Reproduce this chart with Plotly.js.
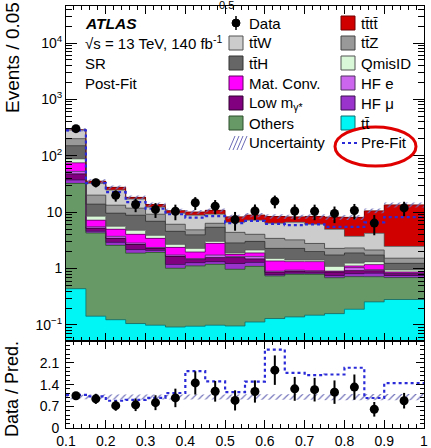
<!DOCTYPE html>
<html><head><meta charset="utf-8">
<script src="https://cdn.plot.ly/plotly-3.0.1.min.js"></script>
<style>html,body{margin:0;padding:0;background:#fff}#chart{width:431px;height:448px}</style>
</head><body><div id="chart"></div>
<script>
// ---- data ----
const binEdges = [0.1,0.15,0.2,0.25,0.3,0.35,0.4,0.45,0.5,0.55,0.6,0.65,0.7,0.75,0.8,0.85,0.9,1.0];
const ttbar   = [0.44,0.143,0.124,0.106,0.099,0.092,0.095,0.099,0.096,0.113,0.13,0.139,0.149,0.159,0.19,0.257,0.283];
const others  = [31.9,4.13,2.45,1.77,1.83,0.92,1.02,1.09,0.875,0.98,0.61,0.65,0.64,0.53,0.53,0.46,0.41];
const hfMu    = [5.0,0.31,0.34,0.30,0.17,0.17,0.16,0.14,0.26,0.19,0.04,0.04,0.04,0.06,0.094,0.11,0.06];
const lowM    = [10.4,0.60,0.52,0.50,0.18,0.46,0.17,0.24,0.34,0.20,0.085,0.07,0.053,0.116,0.107,0.09,0.064];
const hfE     = [5.2,0.33,0.30,0.17,0.09,0.10,0.06,0.17,0.07,0.16,0.036,0.04,0.037,0.018,0.12,0.04,0.017];
const matConv = [22.1,1.69,1.24,1.20,1.06,0.63,0.46,1.05,0.14,0.25,0.46,0.39,0.41,0.018,0.07,0.22,0.035];
const qmisID  = [13.4,1.28,0.65,0.72,0.45,0.31,0.31,0.24,0.11,0.25,0.15,0.09,0.09,0.19,0.14,0.15,0.08];
const ttH     = [62.5,5.4,3.98,4.07,3.03,1.90,1.69,2.37,0.96,0.89,0.77,0.86,0.59,0.65,0.64,0.41,0.29];
const ttZ     = [50.4,6.2,3.7,2.96,2.30,1.53,0.90,0.96,1.54,1.02,1.15,0.95,0.78,0.54,0.43,0.40,0.29];
const ttW     = [84.7,12.2,11.4,5.3,3.09,3.49,3.97,2.85,2.24,3.15,2.93,3.40,3.32,2.69,1.41,2.08,0.94];
const tttt    = [5.0,3.2,2.9,1.2,1.4,1.1,1.26,1.59,1.67,1.7,2.04,1.67,2.29,3.23,4.37,6.38,11.03];
const data    = [303,33.4,19.9,13.7,11.2,10.4,14.7,12.8,7.4,10.5,15.7,10.5,10.4,9.5,10.7,6.4,11.9];
const dataErr = [17,5.8,4.5,3.7,3.3,3.2,3.8,3.6,2.7,3.2,4.0,3.2,3.2,3.1,3.3,2.5,3.4];
const prefit  = [283,32.7,22.6,15.1,11.5,9.2,8.0,8.5,6.4,7.0,6.2,5.9,6.1,5.5,5.5,6.6,8.2];
const uncRel  = [0.07,0.08,0.08,0.08,0.08,0.08,0.08,0.08,0.08,0.09,0.09,0.09,0.09,0.1,0.1,0.1,0.1];

const yTickVals = [0.1,1,10,100,1000,10000];
const yTickText = ['10<sup>−1</sup>','1','10','10<sup>2</sup>','10<sup>3</sup>','10<sup>4</sup>'];
const rTickVals = [0,0.7,1.4,2.1];
const rTickText = ['0','0.7','1.4','2.1'];

// ---- styling ----
const comps = [
  {key:'ttbar',  vals:ttbar,   color:'#00f5f5', line:'#0a6f6f', label:'tt\u0304'},
  {key:'others', vals:others,  color:'#669966', line:'#2c4f2c', label:'Others'},
  {key:'hfMu',   vals:hfMu,    color:'#9933cc', line:'#3a1050', label:'HF μ'},
  {key:'lowM',   vals:lowM,    color:'#800080', line:'#300030', label:'Low m<sub>γ*</sub>'},
  {key:'hfE',    vals:hfE,     color:'#cc66ee', line:'#503060', label:'HF e'},
  {key:'matConv',vals:matConv, color:'#ff00ff', line:'#600060', label:'Mat. Conv.'},
  {key:'qmisID', vals:qmisID,  color:'#d8f8d8', line:'#555555', label:'QmisID'},
  {key:'ttH',    vals:ttH,     color:'#666666', line:'#333333', label:'tt\u0304H'},
  {key:'ttZ',    vals:ttZ,     color:'#999999', line:'#444444', label:'tt\u0304Z'},
  {key:'ttW',    vals:ttW,     color:'#cccccc', line:'#555555', label:'tt\u0304W'},
  {key:'tttt',   vals:tttt,    color:'#d00000', line:'#700000', label:'tt\u0304tt\u0304'}
];
const C = {}; comps.forEach(c=>C[c.key]=c);
const prefitColor = '#2a2ad8';
const hatchColor = '#6c6cb8';
const n = data.length;
const centers = data.map((_,i)=>(binEdges[i]+binEdges[i+1])/2);
const widths = data.map((_,i)=>binEdges[i+1]-binEdges[i]);
const histX = [];
for (let i=0;i<n;i++) histX.push(binEdges[i], binEdges[i+1]);
const histY = vals => { const out=[]; vals.forEach(v=>out.push(v,v)); return out; };
const lineTr = (ax)=>({type:'scatter', mode:'lines', hoverinfo:'skip', showlegend:false, xaxis:ax[0], yaxis:ax[1]});
const M = ['x','y'], Rr = ['x2','y2'];

const traces = [];
const outlines = [];
let cum = new Array(n).fill(0);
comps.forEach((c,k)=>{
  const bar = {type:'bar', x:centers, y:c.vals, width:widths, marker:{color:c.color, line:{width:0}},
    hoverinfo:'skip', showlegend:false, xaxis:'x', yaxis:'y'};
  if (k>0) bar.base = cum.slice();
  traces.push(bar);
  cum = cum.map((v,i)=>v+c.vals[i]);
  outlines.push(Object.assign(lineTr(M), {x:histX, y:histY(cum), line:{color:c.line, width:0.8, simplify:false}}));
});
const total = cum.slice();
outlines.forEach(t=>traces.push(t));

const pattern = {shape:'/', fgcolor:hatchColor, bgcolor:'rgba(0,0,0,0)', size:5, solidity:0.22};
// main uncertainty band
traces.push(Object.assign(lineTr(M), {x:histX, y:histY(total.map((t,i)=>t*(1-uncRel[i]))), line:{width:0, simplify:false}}));
traces.push(Object.assign(lineTr(M), {x:histX, y:histY(total.map((t,i)=>t*(1+uncRel[i]))), line:{width:0, simplify:false},
  fill:'tonexty', fillcolor:'rgba(0,0,0,0)', fillpattern:pattern}));
// pre-fit total
traces.push(Object.assign(lineTr(M), {x:histX, y:histY(prefit), line:{color:prefitColor, width:2.2, dash:'dot', simplify:false}}));
// data
traces.push({type:'scatter', x:centers, y:data, mode:'markers', marker:{color:'black', size:9},
  error_y:{type:'data', array:dataErr, color:'black', thickness:2, width:0}, hoverinfo:'skip', showlegend:false, xaxis:'x', yaxis:'y'});

// ratio panel
traces.push(Object.assign(lineTr(Rr), {x:histX, y:histY(uncRel.map(u=>1-u)), line:{width:0, simplify:false}}));
traces.push(Object.assign(lineTr(Rr), {x:histX, y:histY(uncRel.map(u=>1+u)), line:{width:0, simplify:false},
  fill:'tonexty', fillcolor:'rgba(0,0,0,0)', fillpattern:pattern}));
traces.push(Object.assign(lineTr(Rr), {x:histX, y:histY(data.map((d,i)=>d/prefit[i])), line:{color:prefitColor, width:2.2, dash:'dot', simplify:false}}));
traces.push({type:'scatter', x:centers, y:data.map((d,i)=>d/total[i]), mode:'markers', marker:{color:'black', size:9},
  error_y:{type:'data', array:dataErr.map((e,i)=>e/total[i]), color:'black', thickness:2, width:0}, hoverinfo:'skip', showlegend:false, xaxis:'x2', yaxis:'y2'});

// ---- layout ----
const W=431, H=448, ML=66, MR=7, MT=6, MB=20;
const PW=W-ML-MR, PH=H-MT-MB;
const px = p=>(p-ML)/PW, py = p=>(H-MB-p)/PH;
const split = py(341);

const minorLog = [];
for (let k=-2;k<=4;k++) for (let m=2;m<=9;m++) minorLog.push(m*Math.pow(10,k));

const FONT = 'Liberation Sans, Arial, Helvetica, sans-serif';
const shapes = [], annotations = [];
const txt = (x,y,text,opt={}) => annotations.push(Object.assign({xref:'paper', yref:'paper', x:px(x), y:py(y), text, showarrow:false, xanchor:'left', yanchor:'middle', font:{size:15, family:FONT, color:'black'}}, opt));

txt(83,23,'<b><i>ATLAS</i></b>',{font:{size:15.5,family:FONT,color:'black'}});
txt(83,43,'√s = 13 TeV, 140 fb<sup>-1</sup>');
txt(83,63,'SR');
txt(83,83,'Post-Fit');
txt(226,5,'0.5',{xanchor:'center', font:{size:11,family:FONT,color:'black'}});

annotations.push({xref:'paper', yref:'paper', x:px(12), y:py(58), text:'Events / 0.05', textangle:-90, showarrow:false, xanchor:'center', yanchor:'middle', font:{size:19,family:FONT,color:'black'}});
annotations.push({xref:'paper', yref:'paper', x:px(12), y:py(389), text:'Data / Pred.', textangle:-90, showarrow:false, xanchor:'center', yanchor:'middle', font:{size:18,family:FONT,color:'black'}});

const rowY = [23,43,63,83,103,123,143];
const swatch = (x0,y,c) => shapes.push({type:'rect', xref:'paper', yref:'paper', x0:px(x0), x1:px(x0+14), y0:py(y+7), y1:py(y-7), fillcolor:c.color, line:{color:c.line, width:1}});
const leftCol = ['data','ttW','ttH','matConv','lowM','others','unc'];
const rightCol = ['tttt','ttZ','qmisID','hfE','hfMu','ttbar','prefit'];
leftCol.forEach((k,i)=>{
  const y = rowY[i];
  if (k==='data') {
    shapes.push({type:'circle', xref:'paper', yref:'paper', x0:px(232), x1:px(240), y0:py(y+4), y1:py(y-4), fillcolor:'black', line:{color:'black', width:1}});
    shapes.push({type:'line', xref:'paper', yref:'paper', x0:px(236), x1:px(236), y0:py(y+7), y1:py(y-7), line:{color:'black', width:1.5}});
    txt(247,y,'Data');
  } else if (k==='unc') {
    for (let j=0;j<4;j++) shapes.push({type:'line', xref:'paper', yref:'paper', x0:px(229+j*4), x1:px(233+j*4+2), y0:py(y+7), y1:py(y-7), line:{color:hatchColor, width:1}});
    txt(247,y,'Uncertainty');
  } else { swatch(229,y,C[k]); txt(247,y,C[k].label); }
});
rightCol.forEach((k,i)=>{
  const y = rowY[i];
  if (k==='prefit') {
    shapes.push({type:'line', xref:'paper', yref:'paper', x0:px(342), x1:px(357), y0:py(y), y1:py(y), line:{color:prefitColor, width:2, dash:'dot'}});
    txt(359,y,'Pre-Fit');
  } else { swatch(341,y,C[k]); txt(359,y,C[k].label); }
});
shapes.push({type:'circle', xref:'paper', yref:'paper', x0:px(335), x1:px(416), y0:py(166), y1:py(127), line:{color:'#e00000', width:3}, fillcolor:'rgba(0,0,0,0)'});

const axBase = {showline:true, linecolor:'black', linewidth:1, mirror:'allticks', ticks:'inside', showgrid:false, zeroline:false, tickcolor:'black'};
const layout = {
  width:W, height:H, margin:{l:ML, r:MR, t:MT, b:MB, pad:0},
  paper_bgcolor:'white', plot_bgcolor:'white', showlegend:false, barmode:'overlay', bargap:0,
  font:{family:FONT, size:14, color:'black'},
  xaxis: Object.assign({}, axBase, {domain:[0,1], anchor:'y', range:[0.1,1.0], tick0:0, dtick:0.1, ticklen:8, showticklabels:false,
    minor:{ticks:'inside', ticklen:4, tick0:0, dtick:0.02, showgrid:false, tickcolor:'black'}}),
  yaxis: Object.assign({}, axBase, {domain:[split,1], anchor:'x', type:'log', range:[-1.284,4.656], tickmode:'array', tickvals:yTickVals, ticktext:yTickText, ticklen:11, tickfont:{size:14},
    minor:{tickmode:'array', tickvals:minorLog, ticks:'inside', ticklen:6, showgrid:false, tickcolor:'black'}}),
  xaxis2: Object.assign({}, axBase, {domain:[0,1], anchor:'y2', range:[0.1,1.0], tick0:0, dtick:0.1, ticklen:8, tickfont:{size:14},
    minor:{ticks:'inside', ticklen:4, tick0:0, dtick:0.02, showgrid:false, tickcolor:'black'}}),
  yaxis2: Object.assign({}, axBase, {domain:[0,split], anchor:'x2', range:[0,2.81], tickmode:'array', tickvals:rTickVals, ticktext:rTickText, ticklen:8, tickfont:{size:14}, ticklabelstandoff:3,
    minor:{ticks:'inside', ticklen:4, tick0:0, dtick:0.14, showgrid:false, tickcolor:'black'}}),
  shapes, annotations
};
Plotly.newPlot('chart', traces, layout, {staticPlot:true, displayModeBar:false});
</script></body></html>
